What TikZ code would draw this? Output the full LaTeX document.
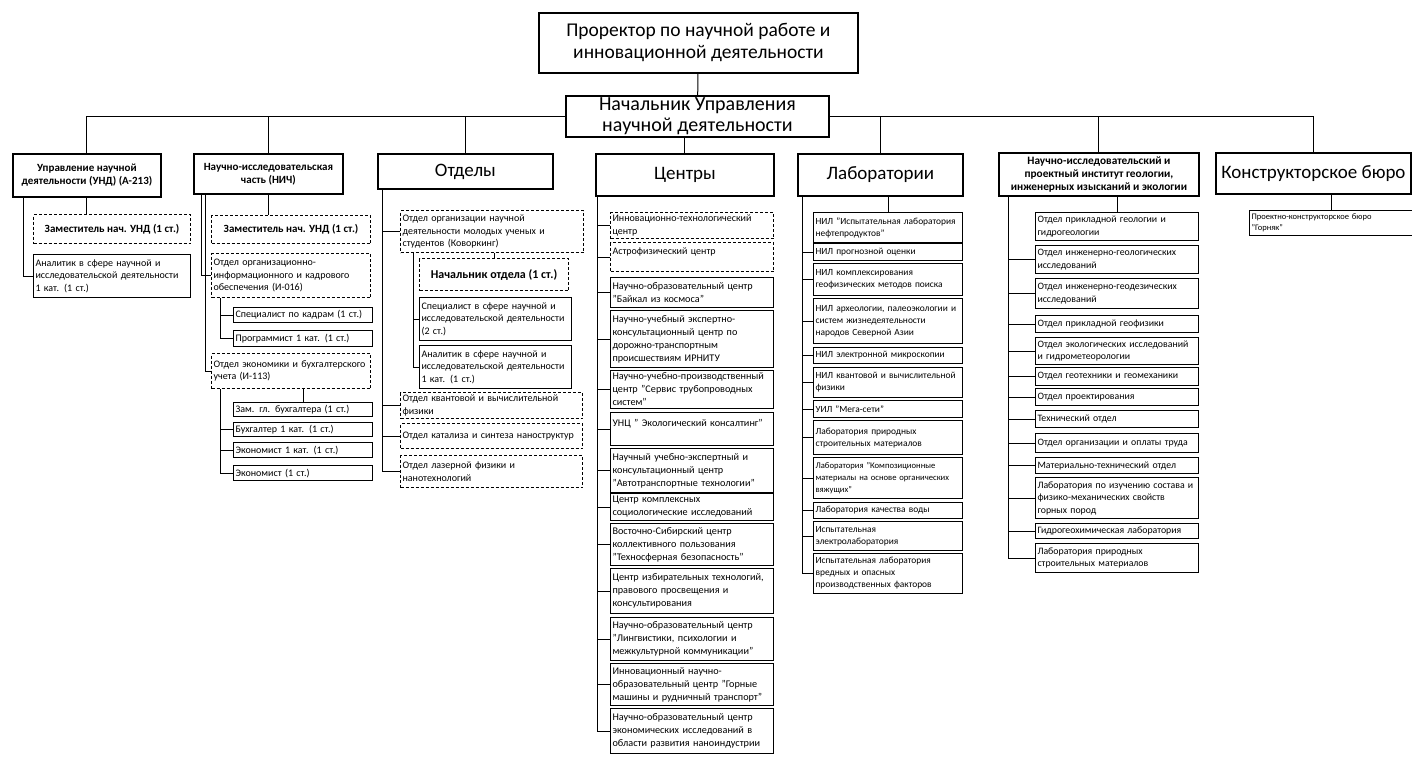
\documentclass[tikz,border=0pt]{standalone}
\usepackage{fontspec}
\setmainfont{Carlito}
\usetikzlibrary{positioning, calc}

\begin{document}
\begin{tikzpicture}[x=1pt, y=-1pt,
    big/.style={draw, line width=1.8pt, anchor=north west, align=center, inner sep=1pt,
        font=\fontsize{19}{22}\selectfont},
    head/.style={draw, line width=1.8pt, anchor=north west, align=center, inner sep=1pt,
        font=\bfseries\fontsize{11}{13}\selectfont},
    item/.style={draw, line width=1.1pt, anchor=north west, align=left, inner xsep=2pt, inner ysep=1.5pt,
        font=\fontsize{10}{12.5}\selectfont},
    grid/.style={item, densely dashed},
    chief/.style={grid, align=center, font=\bfseries\fontsize{11}{12}\selectfont},
    link/.style={line width=1pt}
]
\useasboundingbox (0,0) rectangle (1412,756);
\fill[white] (0,0) rectangle (1412,756);

% top
\node[big, font=\fontsize{19.5}{22}\selectfont, minimum width=319, minimum height=60] (pro) at (538,12)
    {Проректор по научной работе и\\инновационной деятельности};
\node[big, font=\fontsize{20}{21}\selectfont, inner sep=0pt, minimum width=263, minimum height=41] (nach) at (565,95)
    {Начальник Управления\\научной деятельности};

% headers
\node[head, minimum width=148, minimum height=43] (undH) at (12,153) {Управление научной\\деятельности (УНД) (А-213)};
\node[head, minimum width=149, minimum height=40] (nichH) at (193,153) {Научно-исследовательская\\часть (НИЧ)};
\node[big, minimum width=175, minimum height=35] (otdH) at (377,153) {Отделы};
\node[big, minimum width=178, minimum height=42] (cenH) at (595,153) {Центры};
\node[big, minimum width=165, minimum height=42] (labH) at (797,153) {Лаборатории};
\node[head, font=\bfseries\fontsize{11.3}{13}\selectfont, minimum width=200, minimum height=43] (niiH) at (998,152)
    {Научно-исследовательский и\\проектный институт геологии,\\инженерных изысканий и экологии};
\node[big, minimum width=195, minimum height=41] (kbH) at (1215,152) {Конструкторское бюро};

% УНД
\node[chief, minimum width=157, minimum height=29] (undZ) at (33,214) {Заместитель нач. УНД (1 ст.)};
\node[item, text width=153, minimum height=43] (undA) at (33,254)
    {Аналитик в сфере научной и\\исследовательской деятельности\\1 кат. (1 ст.)};

% НИЧ
\node[chief, minimum width=159, minimum height=28] (nichZ) at (211,215) {Заместитель нач. УНД (1 ст.)};
\node[grid, text width=155, minimum height=44] (nichO) at (211,253)
    {Отдел организационно-\\информационного и кадрового\\обеспечения (И-016)};
\node[item, text width=135, minimum height=15] (nichK) at (233,307) {Специалист по кадрам (1 ст.)};
\node[item, text width=135, minimum height=16] (nichP) at (233,330) {Программист 1 кат. (1 ст.)};
\node[grid, text width=155, minimum height=35] (nichE) at (211,353)
    {Отдел экономики и бухгалтерского\\учета (И-113)};
\node[item, text width=135, minimum height=14] (buh1) at (233,402) {Зам. гл. бухгалтера (1 ст.)};
\node[item, text width=135, minimum height=14] (buh2) at (233,422) {Бухгалтер 1 кат. (1 ст.)};
\node[item, text width=135, minimum height=15] (buh3) at (233,442) {Экономист 1 кат. (1 ст.)};
\node[item, text width=135, minimum height=15] (buh4) at (233,465) {Экономист (1 ст.)};

% Отделы
\node[grid, text width=179, minimum height=42] (otdK) at (400,210)
    {Отдел организации научной\\деятельности молодых ученых и\\студентов (Коворкинг)};
\node[chief, font=\bfseries\fontsize{12}{13}\selectfont, minimum width=149, minimum height=32] (otdN) at (419,258)
    {Начальник отдела (1 ст.)};
\node[item, text width=148, minimum height=43] (otdS) at (419,297)
    {Специалист в сфере научной и\\исследовательской деятельности\\(2 ст.)};
\node[item, text width=148, minimum height=43] (otdA) at (419,345)
    {Аналитик в сфере научной и\\исследовательской деятельности\\1 кат. (1 ст.)};
\node[grid, text width=178, minimum height=26] (otdQ) at (400,392) {Отдел квантовой и вычислительной\\физики};
\node[grid, text width=178, minimum height=25] (otdC) at (400,423) {Отдел катализа и синтеза наноструктур};
\node[grid, text width=178, minimum height=32] (otdL) at (400,455) {Отдел лазерной физики и\\нанотехнологий};

% Центры
\tikzset{cen/.style={item, text width=159, font=\fontsize{10.2}{13}\selectfont}}
\node[cen, grid, minimum height=26] (cen1) at (610,212) {Инновационно-технологический\\центр};
\node[cen, grid, minimum height=29] (cen2) at (610,242) {Астрофизический центр\\~};
\node[cen, minimum height=30] (cen3) at (610,277) {Научно-образовательный центр\\"Байкал из космоса"};
\node[cen, minimum height=57] (cen4) at (610,310)
    {Научно-учебный экспертно-\\консультационный центр по\\дорожно-транспортным\\происшествиям ИРНИТУ};
\node[cen, minimum height=38] (cen5) at (610,370)
    {Научно-учебно-производственный\\центр "Сервис трубопроводных\\систем"};
\node[cen, minimum height=33] (cen6) at (610,412) {УНЦ " Экологический консалтинг"\\~};
\node[cen, minimum height=44] (cen7) at (610,448)
    {Научный учебно-экспертный и\\консультационный центр\\"Автотранспортные технологии"};
\node[cen, minimum height=27] (cen8) at (610,493) {Центр комплексных\\социологические исследований};
\node[cen, minimum height=42] (cen9) at (610,523)
    {Восточно-Сибирский центр\\коллективного пользования\\"Техносферная безопасность"};
\node[cen, minimum height=45] (cen10) at (610,568)
    {Центр избирательных технологий,\\правового просвещения и\\консультирования};
\node[cen, minimum height=43] (cen11) at (610,617)
    {Научно-образовательный центр\\"Лингвистики, психологии и\\межкультурной коммуникации"};
\node[cen, minimum height=42] (cen12) at (610,663)
    {Инновационный научно-\\образовательный центр "Горные\\машины и рудничный транспорт"};
\node[cen, minimum height=45] (cen13) at (610,708)
    {Научно-образовательный центр\\экономических исследований в\\области развития наноиндустрии};

% Лаборатории
\tikzset{lab/.style={item, text width=145, font=\fontsize{9.4}{12}\selectfont}}
\node[lab, minimum height=30] (lab1) at (813,212) {НИЛ "Испытательная лаборатория\\нефтепродуктов"};
\node[lab, minimum height=17] (lab2) at (813,243) {НИЛ прогнозной оценки};
\node[lab, minimum height=32] (lab3) at (813,263) {НИЛ комплексирования\\геофизических методов поиска};
\node[lab, minimum height=45] (lab4) at (813,298)
    {НИЛ археологии, палеоэкологии и\\систем жизнедеятельности\\народов Северной Азии};
\node[lab, minimum height=16] (lab5) at (813,347) {НИЛ электронной микроскопии};
\node[lab, minimum height=30] (lab6) at (813,367) {НИЛ квантовой и вычислительной\\физики};
\node[lab, minimum height=17] (lab7) at (813,400) {УИЛ "Мега-сети"};
\node[lab, minimum height=34] (lab8) at (813,420) {Лаборатория природных\\строительных материалов};
\node[lab, font=\fontsize{8.6}{12}\selectfont, minimum height=41] (lab9) at (813,457)
    {Лаборатория "Композиционные\\материалы на основе органических\\вяжущих"};
\node[lab, minimum height=16] (lab10) at (813,502) {Лаборатория качества воды};
\node[lab, minimum height=29] (lab11) at (813,521) {Испытательная\\электролаборатория};
\node[lab, minimum height=40] (lab12) at (813,553)
    {Испытательная лаборатория\\вредных и опасных\\производственных факторов};

% институт
\tikzset{nii/.style={item, text width=159, font=\fontsize{9.8}{12.5}\selectfont}}
\node[nii, minimum height=28] (nii1) at (1035,212) {Отдел прикладной геологии и\\гидрогеологии};
\node[nii, minimum height=28] (nii2) at (1035,245) {Отдел инженерно-геологических\\исследований};
\node[nii, minimum height=30] (nii3) at (1035,278) {Отдел инженерно-геодезических\\исследований};
\node[nii, minimum height=17] (nii4) at (1035,315) {Отдел прикладной геофизики};
\node[nii, minimum height=27] (nii5) at (1035,337) {Отдел экологических исследований\\и гидрометеорологии};
\node[nii, minimum height=18] (nii6) at (1035,367) {Отдел геотехники и геомеханики};
\node[nii, minimum height=17] (nii7) at (1035,388) {Отдел проектирования};
\node[nii, minimum height=17] (nii8) at (1035,410) {Технический отдел};
\node[nii, minimum height=19] (nii9) at (1035,433) {Отдел организации и оплаты труда};
\node[nii, minimum height=16] (nii10) at (1035,457) {Материально-технический отдел};
\node[nii, minimum height=41] (nii11) at (1035,477)
    {Лаборатория по изучению состава и\\физико-механических свойств\\горных пород};
\node[nii, minimum height=15] (nii12) at (1035,523) {Гидрогеохимическая лаборатория};
\node[nii, minimum height=29] (nii13) at (1035,543) {Лаборатория природных\\строительных материалов};

% КБ
\node[item, font=\fontsize{8.5}{11}\selectfont, text width=159, minimum height=25] (kb1) at (1249,210)
    {Проектно-конструкторское бюро\\"Горняк"};

% connectors
\draw[link] (pro) -- (nach);
\foreach \h in {undH, nichH, otdH}
    \draw[link] (nach.west) -| (\h.north);
\foreach \h in {labH, niiH, kbH}
    \draw[link] (nach.east) -| (\h.north);
\draw[link] (cenH.north |- nach.south) -- (cenH.north);

\draw[link] (undH.south) -- (undH.south |- undZ.north);
\draw[link] ([xshift=11pt]undH.south west) |- (undA.west);

\draw[link] (nichH.south) -- (nichH.south |- nichZ.north);
\draw[link] ([xshift=8pt]nichH.south west) |- (nichO.west);
\draw[link] ([xshift=12pt]nichH.south west) |- (nichE.west);
\foreach \b in {nichK, nichP}
    \draw[link] ([xshift=9pt]nichO.south west) |- (\b.west);
\foreach \b in {buh2, buh3, buh4}
    \draw[link] ([xshift=9pt]nichE.south west) |- (\b.west);
\draw[link] (buh1.north |- nichE.south) -- (buh1.north);

\foreach \b in {otdK, otdQ, otdC, otdL}
    \draw[link] ([xshift=5pt]otdH.south west) |- (\b.west);
\foreach \b in {otdS, otdA}
    \draw[link] ([xshift=13pt]otdK.south west) |- (\b.west);
\draw[link] (otdN.north |- otdK.south) -- (otdN.north);

\foreach \i in {1,...,13}
    \draw[link] ([xshift=2pt]cenH.south west) |- (cen\i.west);

\draw[link] (lab1.north |- labH.south) -- (lab1.north);
\foreach \i in {2,...,12}
    \draw[link] ([xshift=5pt]labH.south west) |- (lab\i.west);

\draw[link] (nii1.north |- niiH.south) -- (nii1.north);
\foreach \i in {2,...,13}
    \draw[link] ([xshift=10pt]niiH.south west) |- (nii\i.west);

\draw[link] (kb1.north |- kbH.south) -- (kb1.north);

\end{tikzpicture}
\end{document}
